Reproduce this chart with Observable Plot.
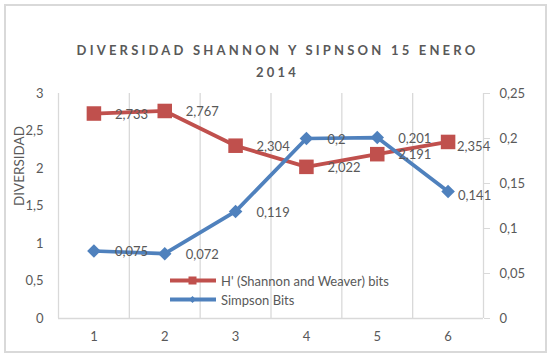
<!DOCTYPE html>
<html>
<head>
<meta charset="utf-8">
<script src="https://cdn.jsdelivr.net/npm/d3@7"></script>
<script src="https://cdn.jsdelivr.net/npm/@observablehq/plot@0.6"></script>
<style>
  html, body { margin: 0; padding: 0; background: #fff; }
  #wrap { position: relative; width: 552px; height: 359px; overflow: hidden; font-family: Lato, "Open Sans", sans-serif; color: #595959; }
  #frame { position: absolute; left: 4px; top: 4px; width: 539px; height: 345px; border: 2px solid #d9d9d9; }
  #title { position: absolute; left: 0; top: 39px; width: 555px; text-align: center; font-weight: bold; font-size: 13px; letter-spacing: 3.2px; line-height: 22px; color: #595959; }
  #chart { position: absolute; left: 0; top: 80px; }
  #legend { position: absolute; left: 169px; top: 271px; font-size: 13px; color: #595959; }
  .row { display: flex; align-items: center; height: 19px; }
  .row svg { margin-right: 4px; }
</style>
</head>
<body>
<div id="wrap">
  <div id="frame"></div>
  <div id="title">DIVERSIDAD SHANNON Y SIPNSON 15 ENERO<br>2014</div>
  <div id="chart"></div>
  <div id="legend"></div>
</div>
<script>
const categories = [1, 2, 3, 4, 5, 6];
const shannon = [2.733, 2.767, 2.304, 2.022, 2.191, 2.354];
const simpson = [0.075, 0.072, 0.119, 0.2, 0.201, 0.141];
const leftTicks = [0, 0.5, 1, 1.5, 2, 2.5, 3];
const rightTicks = [0, 0.05, 0.1, 0.15, 0.2, 0.25];
const seriesNames = ["H' (Shannon and Weaver) bits", "Simpson Bits"];
const colors = ["#C0504D", "#4F81BD"];

const ratio = 3 / 0.25;
const comma = v => String(+(+v).toFixed(3)).replace(".", ",");
const bounds = d3.range(0.5, 7, 1);
const lastCat = categories[categories.length - 1];

const dataS = categories.map((c, i) => ({c, v: shannon[i], y: shannon[i]}));
const dataP = categories.map((c, i) => ({c, v: simpson[i], y: simpson[i] * ratio}));
const inner = d => d.c !== lastCat;
const edge = d => d.c === lastCat;

const labelOpts = {x: "c", y: "y", text: d => comma(d.v), textAnchor: "start", fill: "#595959", fontSize: 13};

const plot = Plot.plot({
  width: 552,
  height: 279,
  marginLeft: 58,
  marginRight: 69,
  marginTop: 13,
  marginBottom: 41,
  style: {fontFamily: "Lato, 'Open Sans', sans-serif", fontSize: "13px", color: "#595959", background: "transparent", overflow: "visible"},
  x: {type: "linear", domain: [0.5, 6.5]},
  y: {domain: [0, 3]},
  marks: [
    Plot.ruleX(bounds, {stroke: "#d9d9d9", strokeWidth: 1.3}),
    Plot.ruleY([0], {stroke: "#d9d9d9", strokeWidth: 1.5}),
    Plot.axisX({ticks: categories, tickSize: 0, tickPadding: 13, tickFormat: d => String(d), label: null, fill: "#595959"}),
    Plot.axisY({anchor: "left", ticks: leftTicks, tickSize: 0, tickPadding: 15, tickFormat: comma, label: null, fill: "#595959"}),
    Plot.axisY({anchor: "right", ticks: rightTicks.map(v => v * ratio), tickSize: 6, tickPadding: 10, tickFormat: v => comma(v / ratio), label: null, stroke: "#d9d9d9", fill: "#595959"}),
    Plot.text(["DIVERSIDAD"], {frameAnchor: "left", dx: -39, rotate: -90, fill: "#595959", fontSize: 13.5}),
    Plot.line(dataS, {x: "c", y: "y", stroke: colors[0], strokeWidth: 3.75}),
    Plot.dot(dataS, {x: "c", y: "y", symbol: "square", r: 8.2, fill: colors[0], stroke: "none"}),
    Plot.line(dataP, {x: "c", y: "y", stroke: colors[1], strokeWidth: 3.75}),
    Plot.dot(dataP, {x: "c", y: "y", symbol: "diamond2", r: 6.1, fill: colors[1], stroke: "none"}),
    Plot.text(dataS, {...labelOpts, filter: inner, dx: 21, dy: 1}),
    Plot.text(dataP, {...labelOpts, filter: inner, dx: 21, dy: 1}),
    Plot.text(dataS, {...labelOpts, filter: edge, dx: 9, dy: 5}),
    Plot.text(dataP, {...labelOpts, filter: edge, dx: 10, dy: 4})
  ]
});
document.getElementById("chart").appendChild(plot);

const legend = document.getElementById("legend");
seriesNames.forEach((name, i) => {
  const row = document.createElement("div");
  row.className = "row";
  const marker = i === 0
    ? `<rect x="19.5" y="5.5" width="8" height="8" fill="${colors[0]}"/>`
    : `<path d="M23.5 6 L27 9.5 L23.5 13 L20 9.5 Z" fill="${colors[1]}"/>`;
  row.innerHTML = `<svg width="48" height="19"><line x1="1" x2="47" y1="9.5" y2="9.5" stroke="${colors[i]}" stroke-width="4"/>${marker}</svg><span>${name}</span>`;
  legend.appendChild(row);
});
</script>
</body>
</html>
